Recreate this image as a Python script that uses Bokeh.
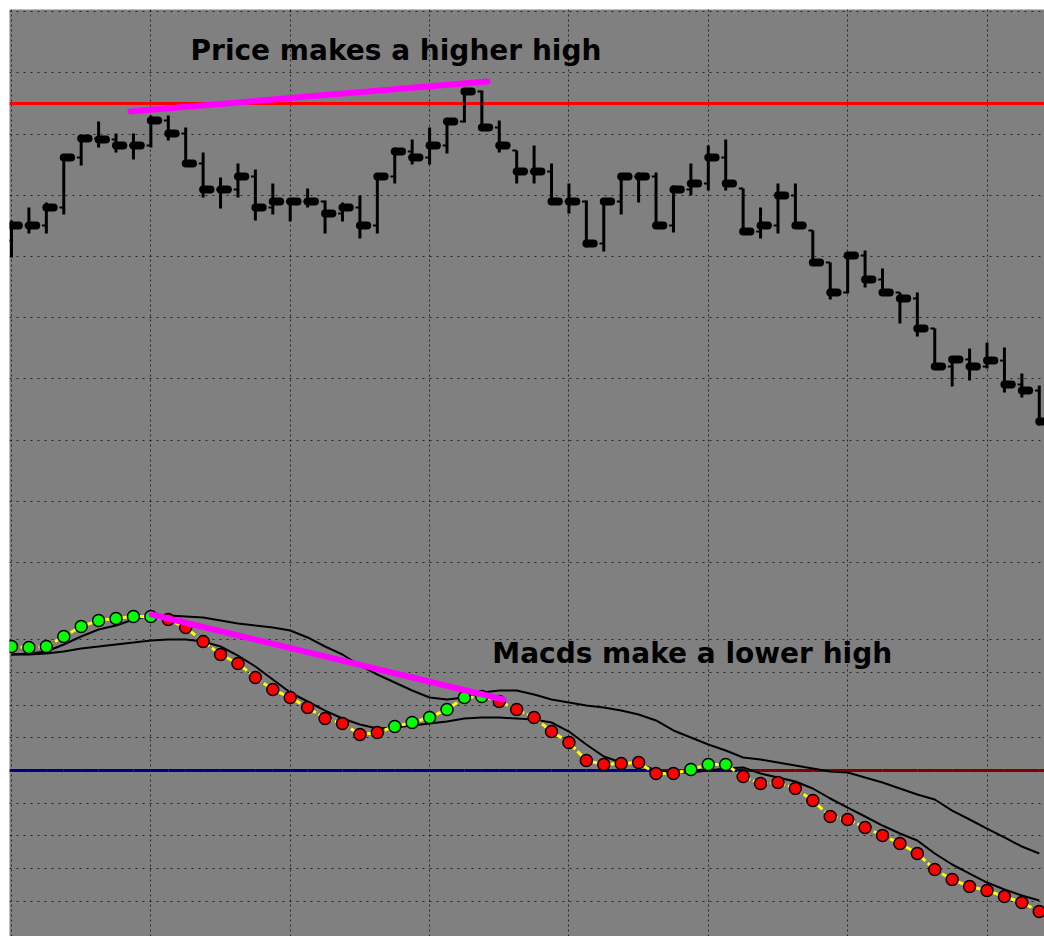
import numpy as np
from bokeh.plotting import figure
from bokeh.models import Range1d, FixedTicker, ColumnDataSource, Grid, Spacer
from bokeh.layouts import column, row
from bokeh.embed import file_html
from bokeh.resources import INLINE
from bokeh.core.properties import value

# ---------------- data ----------------
bar_index = list(range(60))

opens = [1.31631, 1.31753, 1.31753, 1.31900, 1.32309, 1.32464, 1.32456, 1.32407, 1.32407, 1.32611,
         1.32505, 1.32260, 1.32047, 1.32047, 1.32154, 1.31900, 1.31949, 1.31949, 1.31949, 1.31851,
         1.31900, 1.31753, 1.32154, 1.32358, 1.32309, 1.32407, 1.32603, 1.32848, 1.32554, 1.32366,
         1.32194, 1.32194, 1.31949, 1.31949, 1.31606, 1.31949, 1.32154, 1.32154, 1.31753, 1.32047,
         1.32096, 1.32309, 1.32056, 1.31704, 1.31753, 1.31998, 1.31712, 1.31451, 1.31206, 1.31508,
         1.31312, 1.31206, 1.31157, 1.30912, 1.30601, 1.30659, 1.30601, 1.30650, 1.30454, 1.30405]
highs = [1.31794, 1.31900, 1.31941, 1.32333, 1.32489, 1.32603, 1.32505, 1.32505, 1.32652, 1.32652,
         1.32554, 1.32350, 1.32145, 1.32260, 1.32211, 1.32096, 1.31958, 1.32056, 1.31958, 1.31941,
         1.31998, 1.32178, 1.32391, 1.32456, 1.32554, 1.32627, 1.32873, 1.32856, 1.32611, 1.32366,
         1.32407, 1.32260, 1.32096, 1.31958, 1.31958, 1.32178, 1.32186, 1.32186, 1.32080, 1.32260,
         1.32407, 1.32456, 1.32056, 1.31900, 1.32096, 1.32096, 1.31712, 1.31451, 1.31508, 1.31549,
         1.31402, 1.31206, 1.31206, 1.30912, 1.30683, 1.30748, 1.30797, 1.30757, 1.30544, 1.30446]
lows = [1.31492, 1.31688, 1.31688, 1.31843, 1.32243, 1.32391, 1.32350, 1.32293, 1.32391, 1.32448,
        1.32260, 1.31982, 1.31892, 1.31982, 1.31794, 1.31843, 1.31786, 1.31900, 1.31688, 1.31786,
        1.31647, 1.31688, 1.32096, 1.32252, 1.32252, 1.32342, 1.32595, 1.32529, 1.32350, 1.32096,
        1.32096, 1.31941, 1.31851, 1.31574, 1.31541, 1.31843, 1.31941, 1.31753, 1.31696, 1.31998,
        1.32039, 1.32039, 1.31688, 1.31647, 1.31688, 1.31737, 1.31451, 1.31149, 1.31198, 1.31247,
        1.31181, 1.30953, 1.30846, 1.30577, 1.30438, 1.30487, 1.30585, 1.30389, 1.30348, 1.30119]
closes = [1.31753, 1.31753, 1.31900, 1.32309, 1.32464, 1.32456, 1.32407, 1.32407, 1.32611, 1.32505,
          1.32260, 1.32047, 1.32047, 1.32154, 1.31900, 1.31949, 1.31949, 1.31949, 1.31851, 1.31900,
          1.31753, 1.32154, 1.32358, 1.32309, 1.32407, 1.32603, 1.32848, 1.32554, 1.32407, 1.32194,
          1.32194, 1.31949, 1.31949, 1.31606, 1.31949, 1.32154, 1.32154, 1.31753, 1.32047, 1.32096,
          1.32309, 1.32096, 1.31704, 1.31753, 1.31998, 1.31753, 1.31451, 1.31206, 1.31508, 1.31312,
          1.31206, 1.31157, 1.30912, 1.30601, 1.30659, 1.30601, 1.30650, 1.30454, 1.30405, 1.30152]

resistance_level = 1.32750
price_trend_x = [6.83, 27.32]
price_trend_y = [1.32685, 1.32930]
price_label = "Price makes a higher high"
price_label_x = 10.28
price_label_y = 1.33183
price_grid_levels = [1.290, 1.295, 1.300, 1.305, 1.310, 1.315, 1.320, 1.325, 1.330, 1.335]
time_grid_bars = [0, 8, 16, 24, 32, 40, 48, 56]

macd_main = [0.001896, 0.001881, 0.001896, 0.002049, 0.002202, 0.002294, 0.002324, 0.002355, 0.002355, 0.002309,
             0.002187, 0.001973, 0.001774, 0.001636, 0.001422, 0.001239, 0.001116, 0.000963, 0.000795, 0.000719,
             0.000550, 0.000581, 0.000673, 0.000734, 0.000810, 0.000933, 0.001116, 0.001132, 0.001055, 0.000933,
             0.000810, 0.000596, 0.000428, 0.000153, 0.000092, 0.000107, 0.000122, -0.000046, -0.000046, 0.000015,
             0.000092, 0.000092, -0.000092, -0.000199, -0.000183, -0.000275, -0.000459, -0.000703, -0.000749, -0.000872,
             -0.000994, -0.001116, -0.001269, -0.001514, -0.001667, -0.001774, -0.001835, -0.001927, -0.002018, -0.002156]
macd_state = ["U"] * 9 + ["D"] * 13 + ["U"] * 6 + ["D"] * 11 + ["U"] * 3 + ["D"] * 18
signal_upper = [0.001774, 0.001789, 0.001820, 0.001927, 0.002049, 0.002156, 0.002217, 0.002309, 0.002370, 0.002370,
                0.002355, 0.002340, 0.002294, 0.002248, 0.002217, 0.002187, 0.002141, 0.002034, 0.001896, 0.001774,
                0.001606, 0.001468, 0.001346, 0.001223, 0.001116, 0.001086, 0.001116, 0.001193, 0.001223, 0.001223,
                0.001162, 0.001086, 0.001040, 0.000994, 0.000963, 0.000917, 0.000856, 0.000765, 0.000612, 0.000505,
                0.000398, 0.000306, 0.000199, 0.000168, 0.000122, 0.000076, 0.000031, -0.000015, -0.000031, -0.000107,
                -0.000183, -0.000275, -0.000367, -0.000443, -0.000612, -0.000749, -0.000887, -0.001024, -0.001162, -0.001269]
signal_lower = [0.001774, 0.001774, 0.001789, 0.001820, 0.001866, 0.001896, 0.001927, 0.001957, 0.001988, 0.002003,
                0.002003, 0.001973, 0.001896, 0.001758, 0.001590, 0.001391, 0.001193, 0.001055, 0.000917, 0.000795,
                0.000703, 0.000642, 0.000658, 0.000688, 0.000719, 0.000749, 0.000795, 0.000810, 0.000810, 0.000795,
                0.000780, 0.000734, 0.000596, 0.000398, 0.000214, 0.000122, 0.000107, 0.000000, -0.000031, -0.000031,
                0.000000, 0.000031, 0.000046, -0.000046, -0.000107, -0.000168, -0.000275, -0.000428, -0.000566, -0.000703,
                -0.000841, -0.000963, -0.001070, -0.001269, -0.001437, -0.001575, -0.001713, -0.001820, -0.001911, -0.001988]
macd_trend_x = [8.04, 28.24]
macd_trend_y = [0.002385, 0.001086]
macd_label = "Macds make a lower high"
macd_label_x = 27.6
macd_label_y = 0.001789
macd_grid_levels = [-0.002, -0.0015, -0.001, -0.0005, 0.0, 0.0005, 0.001, 0.0015, 0.002]

# ---------------- figure ----------------
BG = "#808080"
W = 1035
H = 927

x_range = Range1d(-0.115, 59.30)
p = figure(width=W, height=H, x_range=x_range, y_range=Range1d(1.259444, 1.335180),
           output_backend="svg", toolbar_location=None,
           x_axis_location=None, y_axis_location=None,
           background_fill_color=BG, border_fill_color=BG,
           min_border=0, min_border_left=0, min_border_right=0,
           min_border_top=0, min_border_bottom=0)
p.extra_y_ranges = {"macd": Range1d(-0.002538, 0.011636)}
p.outline_line_color = None

GRID_COLOR = "#101010"
p.xgrid.ticker = FixedTicker(ticks=time_grid_bars)
p.xgrid.grid_line_color = GRID_COLOR
p.xgrid.grid_line_dash = "2 3"
p.xgrid.grid_line_alpha = 0.8
p.ygrid.ticker = FixedTicker(ticks=price_grid_levels)
p.ygrid.grid_line_color = GRID_COLOR
p.ygrid.grid_line_dash = "2 5"
p.ygrid.grid_line_alpha = 0.8
macd_grid = Grid(dimension=1, y_range_name="macd", ticker=FixedTicker(ticks=macd_grid_levels),
                 grid_line_color=GRID_COLOR, grid_line_dash="2 5", grid_line_alpha=0.8)
p.add_layout(macd_grid)

# ---------------- price panel ----------------
idx = np.array(bar_index, dtype=float)
src = ColumnDataSource(dict(x=idx, o=opens, h=highs, l=lows, c=closes,
                            ol=idx - 0.25, cr=idx + 0.42))

p.segment(x0=x_range.start, x1=x_range.end, y0=resistance_level, y1=resistance_level,
          line_color="#FF0000", line_width=3)
p.segment(x0="x", x1="x", y0="l", y1="h", source=src, line_color="#000000", line_width=3)
p.segment(x0="ol", x1="x", y0="o", y1="o", source=src, line_color="#000000", line_width=2)
p.segment(x0="x", x1="cr", y0="c", y1="c", source=src, line_color="#000000",
          line_width=8, line_cap="round")
p.line(price_trend_x, price_trend_y, line_color="#FF00FF", line_width=6, line_cap="round")
p.text(x=[price_label_x], y=[price_label_y], text=[price_label],
       text_font=value("DejaVu Sans"), text_font_style="bold", text_font_size="28px",
       text_color="#000000", text_baseline="alphabetic", text_align="left")

# ---------------- MACD panel ----------------
m = np.array(macd_main)
zx0 = idx.copy()
zx0[0] = x_range.start
zx1 = idx + 1
zcol = np.where(m >= 0, "#000080", "#800000")
p.segment(x0=zx0, x1=zx1, y0=np.zeros_like(m), y1=np.zeros_like(m),
          line_color=zcol, line_width=3, y_range_name="macd")

p.line(idx, signal_upper, line_color="#000000", line_width=2, y_range_name="macd")
p.line(idx, signal_lower, line_color="#000000", line_width=2, y_range_name="macd")
p.line(idx, macd_main, line_color="#FFFF00", line_width=3, line_dash="6 3", y_range_name="macd")
dot_colors = ["#00FF00" if s == "U" else "#FF0000" for s in macd_state]
p.scatter(idx, macd_main, size=12, fill_color=dot_colors, line_color="#000000", line_width=1.5,
          y_range_name="macd")
p.line(macd_trend_x, macd_trend_y, line_color="#FF00FF", line_width=6, line_cap="round",
       y_range_name="macd")
p.text(x=[macd_label_x], y=[macd_label_y], text=[macd_label],
       text_font=value("DejaVu Sans"), text_font_style="bold", text_font_size="28px",
       text_color="#000000", text_baseline="alphabetic", text_align="left", y_range_name="macd")

layout = row(Spacer(width=9, height=9), column(Spacer(width=9, height=9), p, spacing=0), spacing=0)

with open("out.html", "w") as f:
    f.write(file_html(layout, INLINE))
